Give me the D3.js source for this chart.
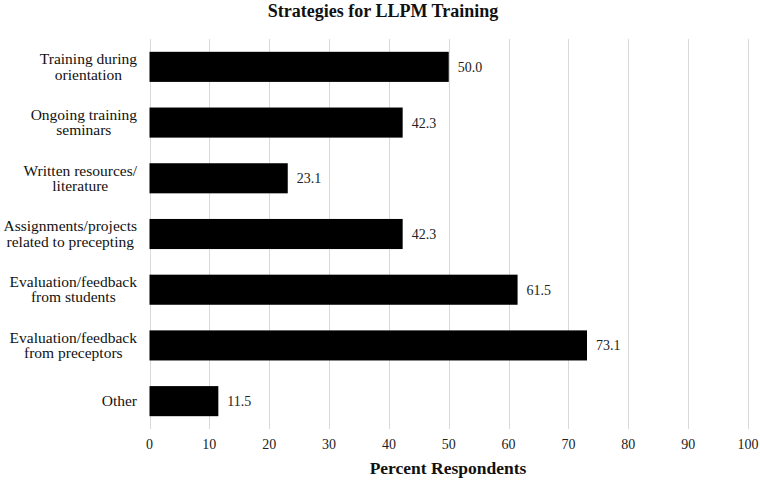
<!DOCTYPE html>
<html>
<head>
<meta charset="utf-8">
<script src="https://cdn.jsdelivr.net/npm/d3@7"></script>
<style>
  body { margin: 0; background: #fff; }
</style>
</head>
<body>
<div id="chart"></div>
<script>
const categories = [
  ["Training during", "orientation"],
  ["Ongoing training", "seminars"],
  ["Written resources/", "literature"],
  ["Assignments/projects", "related to precepting"],
  ["Evaluation/feedback", "from students"],
  ["Evaluation/feedback", "from preceptors"],
  ["Other"]
];
const values = [50.0, 42.3, 23.1, 42.3, 61.5, 73.1, 11.5];
const ticks = [0, 10, 20, 30, 40, 50, 60, 70, 80, 90, 100];

const width = 760, height = 480;
const margin = {top: 39, right: 12, bottom: 51, left: 149.5};
const serif = "'Liberation Serif', 'Times New Roman', Times, 'DejaVu Serif', serif";

const svg = d3.select("#chart")
  .append("svg")
  .attr("width", width)
  .attr("height", height)
  .style("display", "block")
  .attr("font-family", serif);

const x = d3.scaleLinear()
  .domain([0, 100])
  .range([margin.left, width - margin.right]);

const y = d3.scaleBand()
  .domain(d3.range(categories.length))
  .range([margin.top, height - margin.bottom])
  .paddingInner(0.46)
  .paddingOuter(0.23);

// gridlines
svg.append("g")
  .selectAll("line")
  .data(ticks)
  .join("line")
  .attr("x1", d => Math.round(x(d)) + 0.5)
  .attr("x2", d => Math.round(x(d)) + 0.5)
  .attr("y1", margin.top)
  .attr("y2", height - margin.bottom)
  .attr("stroke", "#d9d9d9")
  .attr("stroke-width", 1);

// tick labels
svg.append("g")
  .selectAll("text")
  .data(ticks)
  .join("text")
  .attr("x", d => x(d))
  .attr("y", 449)
  .attr("text-anchor", "middle")
  .attr("font-family", serif)
  .attr("font-size", 14)
  .attr("fill", "#222")
  .text(d => d);

// bars
svg.append("g")
  .selectAll("rect")
  .data(values)
  .join("rect")
  .attr("x", x(0))
  .attr("y", (d, i) => y(i))
  .attr("width", d => x(d) - x(0))
  .attr("height", y.bandwidth())
  .attr("fill", "#000");

// value labels
svg.append("g")
  .selectAll("text")
  .data(values)
  .join("text")
  .attr("x", d => x(d) + 9)
  .attr("y", (d, i) => y(i) + y.bandwidth() / 2 + 5)
  .attr("font-family", serif)
  .attr("font-size", 14)
  .attr("fill", "#222")
  .text(d => d.toFixed(1));

// category labels: lines centred on each other, block right-aligned
const labelRight = 137;
const catG = svg.append("g");
categories.forEach((lines, i) => {
  const g = catG.append("g");
  const cy = y(i) + y.bandwidth() / 2;
  const lh = 15.5;
  const texts = lines.map((s, k) => g.append("text")
    .attr("y", cy + (k - (lines.length - 1) / 2) * lh + 5)
    .attr("text-anchor", "middle")
    .attr("font-family", serif)
    .attr("font-size", 15.5)
    .attr("fill", "#111")
    .text(s));
  const w = d3.max(texts, t => t.node().getComputedTextLength());
  texts.forEach(t => t.attr("x", labelRight - w / 2));
});

// title
svg.append("text")
  .attr("x", 383)
  .attr("y", 17)
  .attr("text-anchor", "middle")
  .attr("font-family", serif)
  .attr("font-size", 18)
  .attr("font-weight", "bold")
  .attr("fill", "#111")
  .text("Strategies for LLPM Training");

// axis title
svg.append("text")
  .attr("x", 448)
  .attr("y", 474)
  .attr("text-anchor", "middle")
  .attr("font-family", serif)
  .attr("font-size", 17.5)
  .attr("font-weight", "bold")
  .attr("fill", "#111")
  .text("Percent Respondents");
</script>
</body>
</html>
